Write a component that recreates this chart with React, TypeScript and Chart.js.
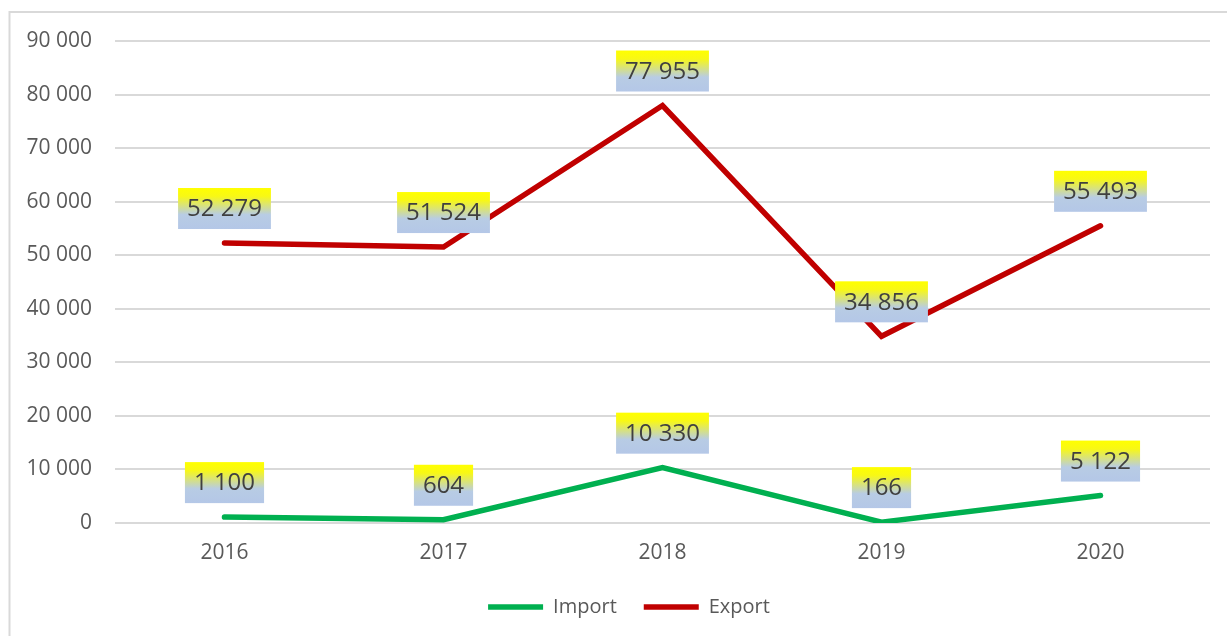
import React, { useEffect, useRef } from "react";
import { Chart, registerables } from "chart.js";

Chart.register(...registerables);

const years = ["2016", "2017", "2018", "2019", "2020"];
const importValues = [1100, 604, 10330, 166, 5122];
const exportValues = [52279, 51524, 77955, 34856, 55493];
const yTickMax = 90000;
const yTickStep = 10000;

const FONT = "'Open Sans', 'Liberation Sans', sans-serif";

const fmt = (v: number) => String(Math.round(v)).replace(/\B(?=(\d{3})+(?!\d))/g, " ");

const borderPlugin = {
  id: "outerBorder",
  beforeDraw(chart: any) {
    if (chart.legend) chart.legend.left = 48;
    const ctx = chart.ctx;
    ctx.save();
    ctx.fillStyle = "#FFFFFF";
    ctx.fillRect(0, 0, chart.width, chart.height);
    ctx.strokeStyle = "#D9D9D9";
    ctx.lineWidth = 2;
    ctx.strokeRect(9.5, 12, 3000, 3000);
    ctx.restore();
  },
};

const labelPlugin = {
  id: "boxLabels",
  afterDatasetsDraw(chart: any) {
    const ctx = chart.ctx;
    ctx.save();
    ctx.font = `24px ${FONT}`;
    ctx.textAlign = "center";
    ctx.textBaseline = "middle";
    chart.data.datasets.forEach((ds: any, di: number) => {
      const meta = chart.getDatasetMeta(di);
      meta.data.forEach((pt: any, i: number) => {
        const text = fmt(ds.data[i]);
        const tw = ctx.measureText(text).width;
        const w = tw + 18;
        const h = 41;
        const bx = pt.x - w / 2;
        const by = pt.y - 14 - h;
        const g = ctx.createLinearGradient(0, by, 0, by + h);
        g.addColorStop(0, "#FFFF00");
        g.addColorStop(0.2, "#F8F815");
        g.addColorStop(0.65, "#B8CCE4");
        g.addColorStop(1, "#B4C7E7");
        ctx.fillStyle = g;
        ctx.fillRect(bx, by, w, h);
        ctx.fillStyle = "#404040";
        ctx.fillText(text, pt.x, by + h / 2 + 1);
      });
    });
    ctx.restore();
  },
};

export default function App() {
  const ref = useRef<HTMLCanvasElement>(null);
  useEffect(() => {
    if (!ref.current) return;
    const chart = new Chart(ref.current, {
      type: "line",
      data: {
        labels: years,
        datasets: [
          {
            label: "Import",
            data: importValues,
            borderColor: "#00B050",
            backgroundColor: "#00B050",
            borderWidth: 5.5,
            borderCapStyle: "round",
            borderJoinStyle: "miter",
            pointRadius: 0,
            pointHoverRadius: 0,
            tension: 0,
          },
          {
            label: "Export",
            data: exportValues,
            borderColor: "#C00000",
            backgroundColor: "#C00000",
            borderWidth: 5.5,
            borderCapStyle: "round",
            borderJoinStyle: "miter",
            pointRadius: 0,
            pointHoverRadius: 0,
            tension: 0,
          },
        ],
      },
      options: {
        responsive: false,
        animation: false,
        devicePixelRatio: 1,
        layout: { padding: { left: 0, right: 17, top: 41, bottom: 9 } },
        scales: {
          x: {
            offset: true,
            grid: { display: false },
            border: { display: false },
            ticks: { color: "#595959", font: { family: FONT, size: 21 }, padding: 9, maxRotation: 0 },
            afterFit: (s: any) => {
              s.height = 47;
            },
          },
          y: {
            min: 0,
            max: yTickMax,
            ticks: {
              stepSize: yTickStep,
              color: "#595959",
              font: { family: FONT, size: 21 },
              padding: 23,
              callback: (v: any) => fmt(Number(v)),
            },
            grid: { color: "#D9D9D9", lineWidth: 2, drawTicks: false },
            border: { display: false },
            afterFit: (s: any) => {
              s.width = 115;
            },
          },
        },
        plugins: {
          legend: {
            position: "bottom",
            labels: {
              usePointStyle: true,
              pointStyle: "line",
              pointStyleWidth: 55,
              padding: 27,
              color: "#595959",
              font: { family: FONT, size: 20 },
            },
          },
          tooltip: { enabled: false },
        },
      },
      plugins: [borderPlugin, labelPlugin],
    } as any);
    return () => chart.destroy();
  }, []);
  return (
    <div style={{ position: "absolute", left: 0, top: 0, width: 1227, height: 636, overflow: "hidden", background: "#fff" }}>
      <canvas ref={ref} width={1227} height={636} style={{ display: "block" }} />
    </div>
  );
}
